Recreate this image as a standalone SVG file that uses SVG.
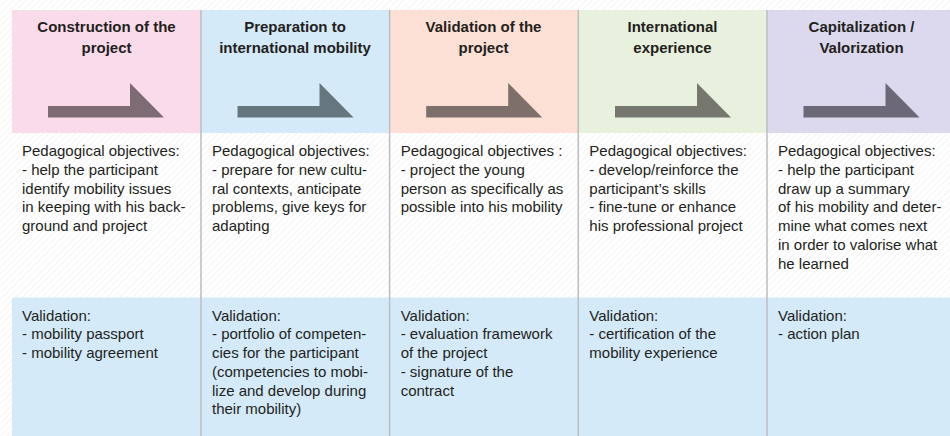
<svg xmlns="http://www.w3.org/2000/svg" width="950" height="436" viewBox="0 0 950 436">
  <defs>
    <!-- fine diagonal hatching of the page background -->
    <pattern id="hatch" patternUnits="userSpaceOnUse" width="4.6" height="4.6" patternTransform="rotate(45)">
      <line x1="0" y1="0" x2="0" y2="4.6" stroke="#e4e4e4" stroke-width="0.8"/>
    </pattern>
    <!-- step arrow shown in every phase header -->
    <polygon id="step-arrow" points="0,23 82,23 82,0 116,34.5 0,34.5"/>
    <style>
      .title { font-family: "Liberation Sans", Arial, sans-serif; font-weight: bold; font-size: 15px; fill: #231f20; text-anchor: middle; }
      .body  { font-family: "Liberation Sans", Arial, sans-serif; font-size: 15px; fill: #231f20; }
      .sep   { stroke: #bdbdbd; stroke-width: 1.5; }
      .valid { fill: #d4eaf9; }
    </style>
  </defs>

  <!-- page background -->
  <rect x="0" y="0" width="950" height="436" fill="#ffffff"/>
  <rect x="0" y="0" width="950" height="436" fill="url(#hatch)"/>

  <!-- phase 1 -->
  <g id="phase-construction">
    <rect x="12" y="10" width="189" height="123" fill="#fadbea"/>
    <use href="#step-arrow" x="48" y="83" fill="#7d6c74"/>
    <text class="title" x="106.5"><tspan x="106.5" y="32">Construction of the</tspan><tspan x="106.5" y="53">project</tspan></text>
    <text class="body"><tspan x="22" y="155.5">Pedagogical objectives:</tspan><tspan x="22" y="175">- help the participant</tspan><tspan x="22" y="193.7">identify mobility issues</tspan><tspan x="22" y="212.4">in keeping with his back-</tspan><tspan x="22" y="231.1">ground and project</tspan></text>
    <rect class="valid" x="12" y="297.5" width="189" height="138.5"/>
    <text class="body"><tspan x="22" y="320.5">Validation:</tspan><tspan x="22" y="339.3">- mobility passport</tspan><tspan x="22" y="358">- mobility agreement</tspan></text>
  </g>

  <!-- phase 2 -->
  <g id="phase-preparation">
    <rect x="201" y="10" width="188.6" height="123" fill="#d4eaf9"/>
    <use href="#step-arrow" x="237.5" y="83" fill="#66767e"/>
    <text class="title"><tspan x="295" y="32">Preparation to</tspan><tspan x="295" y="53">international mobility</tspan></text>
    <text class="body"><tspan x="212" y="155.5">Pedagogical objectives:</tspan><tspan x="212" y="175">- prepare for new cultu-</tspan><tspan x="212" y="193.7">ral contexts, anticipate</tspan><tspan x="212" y="212.4">problems, give keys for</tspan><tspan x="212" y="231.1">adapting</tspan></text>
    <rect class="valid" x="201" y="297.5" width="188.6" height="138.5"/>
    <text class="body"><tspan x="212" y="320.5">Validation:</tspan><tspan x="212" y="339.3">- portfolio of competen-</tspan><tspan x="212" y="358">cies for the participant</tspan><tspan x="212" y="376.8">(competencies to mobi-</tspan><tspan x="212" y="395.5">lize and develop during</tspan><tspan x="212" y="414.2">their mobility)</tspan></text>
  </g>

  <!-- phase 3 -->
  <g id="phase-validation">
    <rect x="389.6" y="10" width="188.7" height="123" fill="#fde0d5"/>
    <use href="#step-arrow" x="426.2" y="83" fill="#7d706b"/>
    <text class="title"><tspan x="483.5" y="32">Validation of the</tspan><tspan x="483.5" y="53">project</tspan></text>
    <text class="body"><tspan x="400.7" y="155.5">Pedagogical objectives :</tspan><tspan x="400.7" y="175">- project the young</tspan><tspan x="400.7" y="193.7">person as specifically as</tspan><tspan x="400.7" y="212.4">possible into his mobility</tspan></text>
    <rect class="valid" x="389.6" y="297.5" width="188.7" height="138.5"/>
    <text class="body"><tspan x="400.7" y="320.5">Validation:</tspan><tspan x="400.7" y="339.3">- evaluation framework</tspan><tspan x="400.7" y="358">of the project</tspan><tspan x="400.7" y="376.8">- signature of the</tspan><tspan x="400.7" y="395.5">contract</tspan></text>
  </g>

  <!-- phase 4 -->
  <g id="phase-experience">
    <rect x="578.3" y="10" width="188.7" height="123" fill="#e7f1de"/>
    <use href="#step-arrow" x="615" y="83" fill="#767870"/>
    <text class="title"><tspan x="672.5" y="32">International</tspan><tspan x="672.5" y="53">experience</tspan></text>
    <text class="body"><tspan x="589.3" y="155.5">Pedagogical objectives:</tspan><tspan x="589.3" y="175">- develop/reinforce the</tspan><tspan x="589.3" y="193.7">participant’s skills</tspan><tspan x="589.3" y="212.4">- fine-tune or enhance</tspan><tspan x="589.3" y="231.1">his professional project</tspan></text>
    <rect class="valid" x="578.3" y="297.5" width="188.7" height="138.5"/>
    <text class="body"><tspan x="589.3" y="320.5">Validation:</tspan><tspan x="589.3" y="339.3">- certification of the</tspan><tspan x="589.3" y="358">mobility experience</tspan></text>
  </g>

  <!-- phase 5 -->
  <g id="phase-capitalization">
    <rect x="767" y="10" width="183" height="123" fill="#dcd9ee"/>
    <use href="#step-arrow" x="803.5" y="83" fill="#6c6878"/>
    <text class="title"><tspan x="861.5" y="32">Capitalization /</tspan><tspan x="861.5" y="53">Valorization</tspan></text>
    <text class="body"><tspan x="778" y="155.5">Pedagogical objectives:</tspan><tspan x="778" y="175">- help the participant</tspan><tspan x="778" y="193.7">draw up a summary</tspan><tspan x="778" y="212.4">of his mobility and deter-</tspan><tspan x="778" y="231.1">mine what comes next</tspan><tspan x="778" y="249.8">in order to valorise what</tspan><tspan x="778" y="268.5">he learned</tspan></text>
    <rect class="valid" x="767" y="297.5" width="183" height="138.5"/>
    <text class="body"><tspan x="778" y="320.5">Validation:</tspan><tspan x="778" y="339.3">- action plan</tspan></text>
  </g>

  <!-- column rules between phases -->
  <g id="connectors">
    <line class="sep" x1="201" y1="10" x2="201" y2="436"/>
    <line class="sep" x1="389.6" y1="10" x2="389.6" y2="436"/>
    <line class="sep" x1="578.3" y1="10" x2="578.3" y2="436"/>
    <line class="sep" x1="767" y1="10" x2="767" y2="436"/>
  </g>
</svg>
